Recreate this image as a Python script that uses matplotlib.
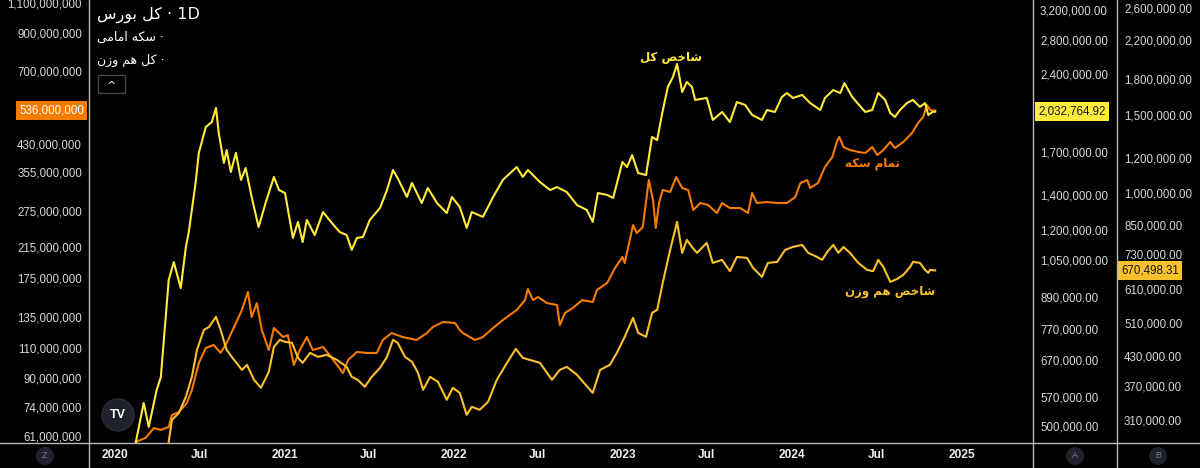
import matplotlib
matplotlib.use("Agg")
import matplotlib.pyplot as plt
import matplotlib.transforms as mtrans
from matplotlib.patches import Ellipse, Rectangle
from matplotlib.lines import Line2D
from matplotlib.ticker import FixedLocator, FuncFormatter, NullLocator
import pandas as pd

# ---------------- DATA ----------------
# شاخص کل (right axis A), values in thousands
yellow_dates = [
    "2020-02-15", "2020-03-03", "2020-03-14", "2020-03-31", "2020-04-09", "2020-04-26", "2020-05-07", "2020-05-22",
    "2020-06-02", "2020-06-08", "2020-06-23", "2020-06-30", "2020-07-15", "2020-07-28", "2020-08-06", "2020-08-12",
    "2020-08-23", "2020-08-29", "2020-09-07", "2020-09-18", "2020-09-29", "2020-10-09", "2020-10-22", "2020-11-06",
    "2020-11-21", "2020-12-09", "2020-12-20", "2021-01-02", "2021-01-19", "2021-01-30", "2021-02-09", "2021-02-18",
    "2021-03-07", "2021-03-25", "2021-04-13", "2021-04-30", "2021-05-15", "2021-05-26", "2021-06-06", "2021-06-19",
    "2021-07-04", "2021-07-26", "2021-08-10", "2021-08-23", "2021-09-02", "2021-09-22", "2021-10-03", "2021-10-24",
    "2021-11-06", "2021-11-26", "2021-12-17", "2021-12-28", "2022-01-14", "2022-01-29", "2022-02-09", "2022-03-05",
    "2022-03-27", "2022-04-17", "2022-05-17", "2022-05-30", "2022-06-10", "2022-07-06", "2022-07-28", "2022-08-12",
    "2022-09-02", "2022-09-24", "2022-10-15", "2022-10-28", "2022-11-08", "2022-11-28", "2022-12-11", "2022-12-31",
    "2023-01-10", "2023-01-21", "2023-02-03", "2023-02-20", "2023-03-05", "2023-03-16", "2023-03-27", "2023-04-08",
    "2023-04-19", "2023-04-28", "2023-05-09", "2023-05-19", "2023-05-30", "2023-06-06", "2023-07-01", "2023-07-14",
    "2023-08-03", "2023-08-20", "2023-09-04", "2023-09-22", "2023-10-07", "2023-10-28", "2023-11-08", "2023-11-25",
    "2023-12-10", "2023-12-21", "2024-01-03", "2024-01-23", "2024-02-09", "2024-03-02", "2024-03-12", "2024-03-30",
    "2024-04-14", "2024-04-23", "2024-05-10", "2024-05-21", "2024-06-07", "2024-06-22", "2024-07-05", "2024-07-20",
    "2024-07-31", "2024-08-10", "2024-08-21", "2024-09-05", "2024-09-18", "2024-10-03", "2024-10-14", "2024-10-21",
    "2024-10-30", "2024-11-05",
]
yellow_vals_k = [
    465, 554, 498, 587, 622, 959, 1039, 925,
    1111, 1183, 1479, 1691, 1898, 1941, 2067, 1848,
    1617, 1713, 1553, 1691, 1499, 1581, 1389, 1215,
    1352, 1519, 1433, 1414, 1157, 1243, 1136, 1254,
    1172, 1299, 1237, 1188, 1172, 1097, 1157, 1162,
    1254, 1323, 1433, 1567, 1512, 1389, 1479, 1352,
    1446, 1352, 1293, 1389, 1329, 1210, 1299, 1271,
    1389, 1499, 1588, 1519, 1567, 1485, 1433, 1452,
    1420, 1340, 1311, 1243, 1414, 1402, 1383, 1624,
    1588, 1675, 1546, 1532, 1816, 1791, 2021, 2270,
    2373, 2515, 2219, 2321, 2270, 2142, 2161, 1959,
    2030, 1941, 2122, 2094, 2003, 1959, 2048, 2030,
    2170, 2209, 2161, 2190, 2113, 2048, 2161, 2239,
    2209, 2310, 2170, 2113, 2030, 2048, 2209, 2142,
    2021, 1985, 2048, 2113, 2142, 2076, 2113, 2003,
    2030, 2032.76492,
]

# تمام سکه / سکه امامی (left axis Z), values in millions
orange_dates = [
    "2020-02-15", "2020-03-07", "2020-03-25", "2020-04-09", "2020-04-26", "2020-05-03", "2020-05-18", "2020-06-04",
    "2020-06-15", "2020-06-30", "2020-07-15", "2020-08-01", "2020-08-16", "2020-08-29", "2020-09-18", "2020-10-01",
    "2020-10-14", "2020-10-22", "2020-11-02", "2020-11-13", "2020-11-28", "2020-12-09", "2020-12-20", "2020-12-29",
    "2021-01-08", "2021-01-21", "2021-02-03", "2021-02-18", "2021-03-03", "2021-03-25", "2021-04-13", "2021-05-07",
    "2021-05-18", "2021-06-06", "2021-06-28", "2021-07-19", "2021-08-01", "2021-08-20", "2021-09-13", "2021-10-13",
    "2021-11-04", "2021-11-17", "2021-12-09", "2022-01-04", "2022-01-14", "2022-01-21", "2022-02-16", "2022-03-05",
    "2022-03-27", "2022-04-17", "2022-05-17", "2022-06-04", "2022-06-10", "2022-06-21", "2022-07-02", "2022-07-21",
    "2022-08-12", "2022-08-18", "2022-08-29", "2022-09-15", "2022-10-05", "2022-10-28", "2022-11-06", "2022-11-28",
    "2022-12-15", "2022-12-31", "2023-01-05", "2023-01-23", "2023-01-31", "2023-02-13", "2023-02-26", "2023-03-07",
    "2023-03-13", "2023-03-20", "2023-03-28", "2023-04-13", "2023-04-26", "2023-05-09", "2023-05-22", "2023-06-02",
    "2023-06-17", "2023-07-04", "2023-07-23", "2023-08-03", "2023-08-20", "2023-09-11", "2023-09-28", "2023-10-07",
    "2023-10-17", "2023-11-08", "2023-11-30", "2023-12-21", "2024-01-08", "2024-01-19", "2024-02-03", "2024-02-09",
    "2024-02-26", "2024-03-12", "2024-03-28", "2024-04-08", "2024-04-12", "2024-04-21", "2024-05-05", "2024-05-23",
    "2024-06-07", "2024-06-22", "2024-07-03", "2024-07-16", "2024-07-31", "2024-08-10", "2024-08-28", "2024-09-16",
    "2024-09-29", "2024-10-10", "2024-10-18", "2024-10-25", "2024-11-05",
]
orange_vals_m = [
    58.6, 60.2, 64.3, 63.5, 64.8, 70.2, 71.6, 76.0,
    82.9, 99.3, 109.8, 112.0, 106.2, 113.5, 129.7, 141.5,
    159.6, 135.0, 148.2, 123.8, 108.3, 125.5, 121.3, 118.1,
    119.7, 98.0, 108.3, 118.1, 108.3, 110.5, 102.7, 92.9,
    101.3, 106.9, 106.2, 106.2, 115.8, 121.3, 118.1, 115.8,
    121.3, 126.3, 130.6, 129.7, 123.8, 121.3, 115.8, 118.1,
    125.5, 132.3, 141.5, 151.2, 162.8, 151.2, 154.3, 148.2,
    146.3, 128.0, 138.7, 143.4, 151.2, 149.2, 161.7, 169.4,
    187.3, 201.6, 193.7, 249.6, 236.6, 246.3, 337.1, 295.0,
    244.7, 289.1, 315.4, 311.2, 343.9, 319.6, 315.4, 275.9,
    289.1, 285.3, 270.4, 289.1, 279.6, 279.6, 270.4, 309.1,
    289.1, 291.0, 289.1, 289.1, 300.9, 330.4, 337.1, 319.6,
    330.4, 367.7, 393.1, 440.4, 449.3, 420.3, 411.9, 406.5,
    403.8, 420.3, 398.4, 411.9, 434.6, 417.5, 434.6, 461.5,
    493.4, 513.5, 556.4, 538.1, 536.0,
]

# شاخص هم وزن (right axis B), values in thousands
gold_dates = [
    "2020-04-26", "2020-05-03", "2020-05-18", "2020-06-02", "2020-06-15", "2020-06-26", "2020-07-11", "2020-07-22",
    "2020-08-06", "2020-08-16", "2020-08-29", "2020-09-09", "2020-10-01", "2020-10-12", "2020-10-27", "2020-11-11",
    "2020-11-28", "2020-12-09", "2020-12-22", "2021-01-02", "2021-01-17", "2021-01-30", "2021-02-09", "2021-02-25",
    "2021-03-14", "2021-04-02", "2021-04-24", "2021-05-15", "2021-05-26", "2021-06-08", "2021-06-23", "2021-07-08",
    "2021-07-26", "2021-08-10", "2021-08-23", "2021-09-02", "2021-09-18", "2021-10-03", "2021-10-16", "2021-10-27",
    "2021-11-11", "2021-11-28", "2021-12-17", "2021-12-30", "2022-01-14", "2022-01-29", "2022-02-09", "2022-02-26",
    "2022-03-16", "2022-04-04", "2022-04-26", "2022-05-15", "2022-05-30", "2022-06-14", "2022-07-06", "2022-08-01",
    "2022-08-18", "2022-09-02", "2022-09-24", "2022-10-07", "2022-10-28", "2022-11-13", "2022-12-04", "2022-12-19",
    "2023-01-05", "2023-01-23", "2023-02-03", "2023-02-20", "2023-03-05", "2023-03-16", "2023-03-28", "2023-04-13",
    "2023-04-28", "2023-05-09", "2023-05-19", "2023-05-30", "2023-06-10", "2023-07-01", "2023-07-14", "2023-08-03",
    "2023-08-20", "2023-09-04", "2023-09-26", "2023-10-09", "2023-10-28", "2023-11-10", "2023-11-30", "2023-12-17",
    "2024-01-03", "2024-01-23", "2024-02-05", "2024-02-24", "2024-03-06", "2024-03-17", "2024-03-30", "2024-04-10",
    "2024-04-21", "2024-05-05", "2024-05-23", "2024-06-11", "2024-06-24", "2024-07-05", "2024-07-16", "2024-07-31",
    "2024-08-15", "2024-08-28", "2024-09-12", "2024-09-18", "2024-10-03", "2024-10-14", "2024-10-21", "2024-10-25",
    "2024-11-05",
]
gold_vals_k = [
    276.7, 309.9, 321.3, 349.0, 387.0, 445.0, 493.2, 500.9,
    527.5, 493.2, 445.0, 429.1, 401.2, 411.7, 381.1, 365.7,
    397.1, 451.9, 468.5, 463.7, 461.3, 426.9, 416.0, 438.1,
    429.1, 433.6, 422.5, 407.5, 387.0, 381.1, 367.6, 387.0,
    405.4, 429.1, 468.5, 461.3, 429.1, 418.2, 395.1, 361.9,
    387.0, 377.1, 343.7, 365.7, 356.3, 318.0, 331.5, 326.4,
    340.1, 381.1, 416.0, 447.2, 426.9, 422.5, 416.0, 381.1,
    401.2, 407.5, 391.0, 377.1, 356.3, 401.2, 411.7, 438.1,
    475.8, 524.8, 485.7, 475.8, 538.5, 546.9, 628.7, 745.5,
    861.5, 734.0, 785.0, 757.1, 734.0, 773.0, 697.1, 708.0,
    668.0, 719.0, 715.3, 679.3, 648.5, 697.1, 700.7, 745.5,
    757.1, 765.0, 734.0, 719.0, 708.0, 737.9, 765.0, 734.0,
    757.1, 734.0, 697.1, 672.4, 668.0, 708.0, 682.9, 632.0,
    641.9, 655.3, 682.9, 700.7, 697.1, 672.4, 662.1, 672.4,
    670.49831,
]

z_ticks = [61e6, 74e6, 90e6, 110e6, 135e6, 175e6, 215e6, 275e6, 355e6, 430e6, 550e6, 700e6, 900e6, 1100e6]
a_ticks = [500e3, 570e3, 670e3, 770e3, 890e3, 1050e3, 1200e3, 1400e3, 1700e3, 2400e3, 2800e3, 3200e3]
b_ticks = [310e3, 370e3, 430e3, 510e3, 610e3, 730e3, 850e3, 1000e3, 1200e3, 1500e3, 1800e3, 2200e3, 2600e3]

title_name = "کل بورس"
legend_names = ["سکه امامی", "کل هم وزن"]
label_total = "شاخص کل"
label_coin = "تمام سکه"
label_eq = "شاخص هم وزن"

# ---------------- Persian shaping (matplotlib has no complex text layout) ----------------
FORMS = {
    '\u0627': ('\uFE8D', '\uFE8E', None, None),
    '\u0628': ('\uFE8F', '\uFE90', '\uFE91', '\uFE92'),
    '\u062A': ('\uFE95', '\uFE96', '\uFE97', '\uFE98'),
    '\u062E': ('\uFEA5', '\uFEA6', '\uFEA7', '\uFEA8'),
    '\u0631': ('\uFEAD', '\uFEAE', None, None),
    '\u0632': ('\uFEAF', '\uFEB0', None, None),
    '\u0633': ('\uFEB1', '\uFEB2', '\uFEB3', '\uFEB4'),
    '\u0634': ('\uFEB5', '\uFEB6', '\uFEB7', '\uFEB8'),
    '\u0635': ('\uFEB9', '\uFEBA', '\uFEBB', '\uFEBC'),
    '\u0644': ('\uFEDD', '\uFEDE', '\uFEDF', '\uFEE0'),
    '\u0645': ('\uFEE1', '\uFEE2', '\uFEE3', '\uFEE4'),
    '\u0646': ('\uFEE5', '\uFEE6', '\uFEE7', '\uFEE8'),
    '\u0647': ('\uFEE9', '\uFEEA', '\uFEEB', '\uFEEC'),
    '\u0648': ('\uFEED', '\uFEEE', None, None),
    '\u06A9': ('\uFB8E', '\uFB8F', '\uFB90', '\uFB91'),
    '\u06CC': ('\uFBFC', '\uFBFD', '\uFBFE', '\uFBFF'),
}


def fa(s):
    out = []
    n = len(s)
    for i, c in enumerate(s):
        if c not in FORMS:
            out.append(c)
            continue
        f = FORMS[c]
        prev = s[i - 1] if i > 0 else None
        nxt = s[i + 1] if i < n - 1 else None
        pc = prev in FORMS and FORMS[prev][2] is not None
        nc = f[2] is not None and nxt in FORMS
        if pc and nc:
            out.append(f[3])
        elif pc:
            out.append(f[1])
        elif nc:
            out.append(f[2])
        else:
            out.append(f[0])
    return ''.join(reversed(out))


# ---------------- STYLE ----------------
W, H = 1200, 468
BG = '#000000'
FG = '#d8d8d8'
LINEC = '#b8b8b8'
C_Y = '#FFEB3B'
C_O = '#F57C00'
C_G = '#FBC02D'
NUMFONT = 'Liberation Sans'
NUMSIZE = 8.3
PX = 72 / 100  # points per pixel
plt.rcParams['font.family'] = ['DejaVu Sans']


def fx(x):
    return x / W


def fy(y):
    return 1 - y / H


fig = plt.figure(figsize=(W / 100, H / 100), dpi=100, facecolor=BG)
L, R, T, B = 89, 1033, 0, 443
RB = 1117
ax = fig.add_axes([fx(L), fy(B), (R - L) / W, (B - T) / H])
ax.set_facecolor(BG)
ax_a = ax.twinx()
ax_b = ax.twinx()

yd = pd.to_datetime(yellow_dates)
od = pd.to_datetime(orange_dates)
gd = pd.to_datetime(gold_dates)

ax.plot(od, [v * 1e6 for v in orange_vals_m], color=C_O, lw=1.5, solid_joinstyle='round')
ax_b.plot(gd, [v * 1e3 for v in gold_vals_k], color=C_G, lw=1.5, solid_joinstyle='round')
ax_a.plot(yd, [v * 1e3 for v in yellow_vals_k], color=C_Y, lw=1.5, solid_joinstyle='round')

for a in (ax, ax_a, ax_b):
    a.set_yscale('log')
    for s in a.spines.values():
        s.set_visible(False)
    a.yaxis.set_minor_locator(NullLocator())
    a.tick_params(axis='both', which='both', length=0)

ax.set_ylim(58.2e6, 1.122e9)
ax_a.set_ylim(463.4e3, 3.346e6)
ax_b.set_ylim(275e3, 2.71e6)
ax.set_xlim(pd.Timestamp('2019-11-06'), pd.Timestamp('2025-06-04'))

fmt0 = FuncFormatter(lambda v, p: f"{v:,.0f}")
fmt2 = FuncFormatter(lambda v, p: f"{v:,.2f}")

ax.yaxis.set_major_locator(FixedLocator(z_ticks))
ax.yaxis.set_major_formatter(fmt0)
ax.tick_params(axis='y', labelsize=NUMSIZE, labelcolor=FG, pad=7 * PX)

ax_a.yaxis.set_major_locator(FixedLocator(a_ticks))
ax_a.yaxis.set_major_formatter(fmt2)
ax_a.tick_params(axis='y', labelsize=NUMSIZE, labelcolor=FG, pad=7 * PX)

ax_b.spines['right'].set_position(('outward', (RB - R) * PX))
ax_b.yaxis.set_major_locator(FixedLocator(b_ticks))
ax_b.yaxis.set_major_formatter(fmt2)
ax_b.tick_params(axis='y', labelsize=NUMSIZE, labelcolor=FG, pad=7 * PX)

for a in (ax, ax_a, ax_b):
    for lab in a.get_yticklabels():
        lab.set_fontfamily(NUMFONT)

# x axis: years and Jul
xt = []
xl = []
for yr in range(2020, 2026):
    xt.append(pd.Timestamp(f'{yr}-01-01'))
    xl.append(str(yr))
    if yr < 2025:
        xt.append(pd.Timestamp(f'{yr}-07-01'))
        xl.append('Jul')
ax.set_xticks(xt)
ax.set_xticklabels(xl)
ax.xaxis.set_minor_locator(NullLocator())
ax.tick_params(axis='x', labelsize=8.6, labelcolor='#eeeeee', pad=6 * PX)
for lab in ax.get_xticklabels():
    lab.set_fontfamily(NUMFONT)
    lab.set_fontweight('bold')
ax_a.xaxis.set_visible(False)
ax_b.xaxis.set_visible(False)

# frame lines
fig.add_artist(Line2D([0, 1], [fy(443), fy(443)], color=LINEC, lw=1.0, transform=fig.transFigure))
for xx in (L, R, RB):
    fig.add_artist(Line2D([fx(xx), fx(xx)], [0, 1], color=LINEC, lw=1.0, transform=fig.transFigure))


# last value labels
def last_label(a, x_axes, val, text, fc, tc, ha):
    tr = mtrans.blended_transform_factory(a.transAxes, a.transData)
    a.text(x_axes, val, text, transform=tr, ha=ha, va='center', fontsize=NUMSIZE,
           family=NUMFONT, color=tc, clip_on=False, zorder=10,
           bbox=dict(boxstyle='square,pad=0.3', fc=fc, ec='none'))


last_label(ax, -5 / (R - L), orange_vals_m[-1] * 1e6, f"{orange_vals_m[-1] * 1e6:,.0f}", C_O, '#ffffff', 'right')
last_label(ax_a, 1 + 5 / (R - L), yellow_vals_k[-1] * 1e3, f"{yellow_vals_k[-1] * 1e3:,.2f}", C_Y, '#131722', 'left')
last_label(ax_b, 1 + (RB - R + 4) / (R - L), gold_vals_k[-1] * 1e3, f"{gold_vals_k[-1] * 1e3:,.2f}", C_G, '#131722', 'left')

# legend header
fig.text(fx(97), fy(15), fa(title_name) + " · 1D", color='#ffffff', fontsize=11.5, ha='left', va='center')
fig.text(fx(97), fy(37), fa(legend_names[0]) + " ·", color='#ffffff', fontsize=9, ha='left', va='center')
fig.text(fx(97), fy(60), fa(legend_names[1]) + " ·", color='#ffffff', fontsize=9, ha='left', va='center')
fig.add_artist(Rectangle((fx(98), fy(93)), 27 / W, 18 / H, transform=fig.transFigure,
                         fc='none', ec='#434651', lw=1.0))
fig.text(fx(111.5), fy(86), "^", color='#ffffff', fontsize=8, ha='center', va='center')

# series labels on chart
fig.text(fx(671), fy(57), fa(label_total), color=C_Y, fontsize=8.5, fontweight='bold', ha='center', va='center')
fig.text(fx(872), fy(163), fa(label_coin), color=C_O, fontsize=8.5, fontweight='bold', ha='center', va='center')
fig.text(fx(890), fy(292), fa(label_eq), color=C_G, fontsize=8.5, fontweight='bold', ha='center', va='center')

# TradingView logo
fig.add_artist(Ellipse((fx(118), fy(415)), 32 / W, 32 / H, transform=fig.transFigure,
                       fc='#1e222d', ec='#2a2e39', lw=1.0, zorder=20))
fig.text(fx(118), fy(415), "TV", color='#ffffff', fontsize=9, fontweight='bold',
         ha='center', va='center', zorder=21, family=NUMFONT)

# scale badges in bottom strip
for xx, t in ((45, 'Z'), (1075, 'A'), (1158, 'B')):
    fig.add_artist(Ellipse((fx(xx), fy(456)), 18 / W, 18 / H, transform=fig.transFigure,
                           fc='#1e222d', ec='none'))
    fig.text(fx(xx), fy(456), t, color='#787b86', fontsize=6.5, ha='center', va='center', family=NUMFONT)

fig.savefig('out.png', dpi=100, facecolor=BG)
